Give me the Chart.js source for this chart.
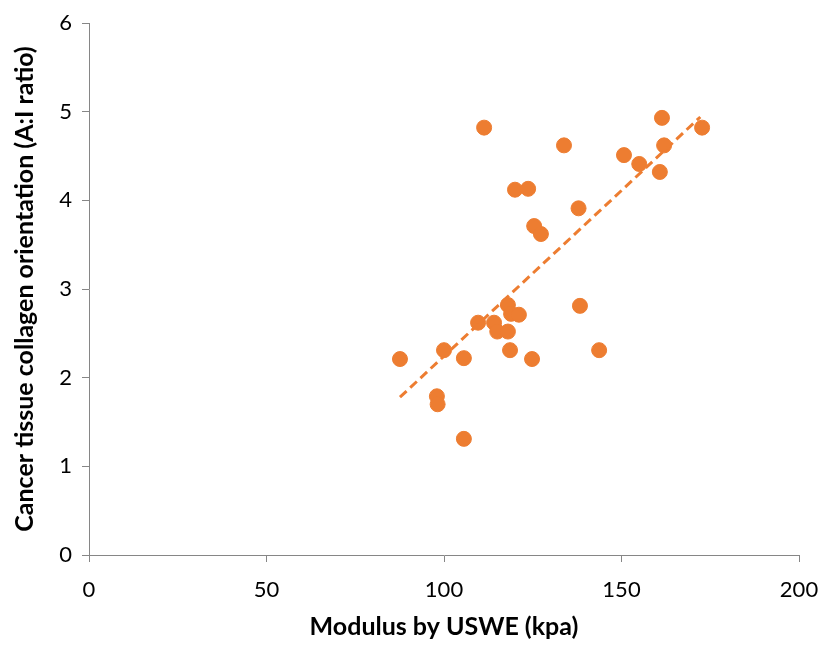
<!DOCTYPE html>
<html>
<head>
<meta charset="utf-8">
<script src="https://cdn.jsdelivr.net/npm/chart.js@4"></script>
<style>
  html, body { margin: 0; padding: 0; background: #fff; }
  #wrap { width: 823px; height: 646px; }
</style>
</head>
<body>
<div id="wrap"><canvas id="myChart" width="823" height="646"></canvas></div>
<script>
// Modulus by USWE (kpa) vs collagen orientation (A:I ratio)
const modulus = [87.6, 98.0, 98.2, 100.0, 105.6, 105.6, 109.6, 111.3, 114.1, 115.0,
  118.0, 118.0, 118.6, 118.9, 121.1, 120.0, 123.7, 124.8, 125.4, 127.3,
  133.8, 137.9, 138.3, 143.7, 150.7, 155.0, 160.8, 161.4, 162.0, 172.7];
const ratio = [2.21, 1.79, 1.70, 2.31, 2.22, 1.31, 2.62, 4.82, 2.62, 2.52,
  2.82, 2.52, 2.31, 2.72, 2.71, 4.12, 4.13, 2.21, 3.71, 3.62,
  4.62, 3.91, 2.81, 2.31, 4.51, 4.41, 4.32, 4.93, 4.62, 4.82];

// trendline end points
const trendX = [87.6, 172.2];
const trendY = [1.78, 4.94];

const xTicks = [0, 50, 100, 150, 200];
const yTicks = [0, 1, 2, 3, 4, 5, 6];

const orange = '#ED7D31';
const axisGray = '#868686';
const font = "Lato, 'Open Sans', sans-serif";

const points = modulus.map((x, i) => ({x: x, y: ratio[i]}));
const trend = trendX.map((x, i) => ({x: x, y: trendY[i]}));

const ctx = document.getElementById('myChart').getContext('2d');
new Chart(ctx, {
  type: 'scatter',
  data: {
    datasets: [
      {
        label: 'Trend',
        data: trend,
        showLine: true,
        borderColor: orange,
        borderWidth: 3,
        borderDash: [9, 5],
        pointRadius: 0,
        fill: false
      },
      {
        label: 'Data',
        data: points,
        backgroundColor: orange,
        borderColor: orange,
        pointRadius: 7.5,
        pointHoverRadius: 7.5
      }
    ]
  },
  options: {
    responsive: false,
    animation: false,
    layout: { padding: { top: 23, right: 24, left: 0, bottom: 0 } },
    plugins: {
      legend: { display: false },
      tooltip: { enabled: false }
    },
    scales: {
      x: {
        type: 'linear',
        min: 0,
        max: 200,
        afterBuildTicks: axis => { axis.ticks = xTicks.map(v => ({value: v})); },
        afterFit: axis => {
          axis.height = 91;
          axis.paddingLeft = 0;
          axis.paddingRight = 0;
        },
        grid: { drawOnChartArea: false, drawTicks: true, tickLength: 7, color: axisGray },
        border: { color: axisGray, width: 1 },
        ticks: { color: '#000', font: { family: font, size: 22 }, padding: 15 },
        title: {
          display: true,
          text: 'Modulus by USWE (kpa)',
          color: '#000',
          font: { family: font, size: 25, weight: 'bold' },
          padding: { top: 6 }
        }
      },
      y: {
        type: 'linear',
        min: 0,
        max: 6,
        afterBuildTicks: axis => { axis.ticks = yTicks.map(v => ({value: v})); },
        afterFit: axis => {
          axis.width = 89;
          axis.paddingTop = 0;
          axis.paddingBottom = 0;
        },
        grid: { drawOnChartArea: false, drawTicks: true, tickLength: 7, color: axisGray },
        border: { color: axisGray, width: 1 },
        ticks: { color: '#000', font: { family: font, size: 22 }, padding: 10 },
        title: {
          display: true,
          text: 'Cancer tissue collagen orientation (A:I ratio)',
          color: '#000',
          font: { family: font, size: 25, weight: 'bold' },
          padding: { top: 10, bottom: 6 }
        }
      }
    }
  }
});
</script>
</body>
</html>
